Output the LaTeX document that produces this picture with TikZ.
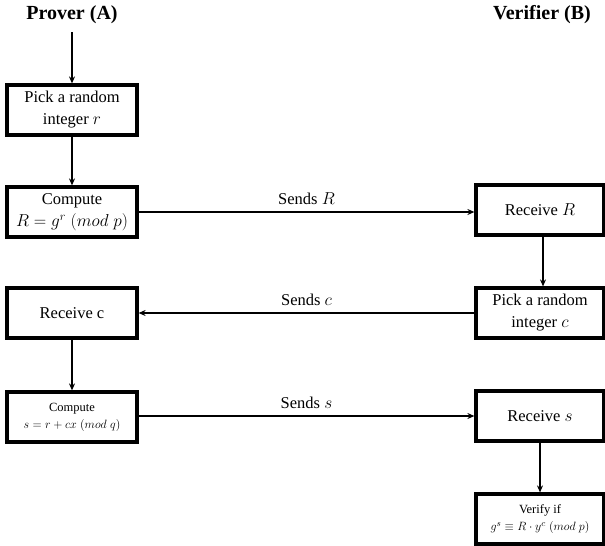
\documentclass[tikz,border=0pt]{standalone}
\usepackage{fontspec}
\setmainfont{Liberation Serif}
\usetikzlibrary{arrows.meta}
\tikzset{
  box/.style={draw=black, line width=3.2pt, fill=white, align=center,
    inner sep=2pt, font=\fontsize{16.5}{22}\selectfont},
  lbox/.style={box, minimum width=130pt, minimum height=50pt},
  rbox/.style={box, minimum width=128pt, minimum height=50pt},
  small/.style={font=\fontsize{12.5}{17}\selectfont},
  title/.style={font=\fontsize{20}{24}\selectfont\bfseries},
  conn/.style={line width=1.8pt, -{Stealth[length=7pt,width=6pt]}},
  lab/.style={font=\fontsize{16.5}{20}\selectfont, above=3pt}
}
\begin{document}
\begin{tikzpicture}[x=1pt,y=-1pt]
\useasboundingbox (0,0) rectangle (605,546);
\node[title] (tA) at (72,15) {Prover (A)};
\node[title] (tB) at (542,15) {Verifier (B)};
\coordinate (start) at (72,32);
\node[lbox] (a1) at (72,110) {Pick a random\\integer $r$};
\node[lbox] (a2) at (72,212) {Compute\\$R=g^{r}\;(mod\;p)$};
\node[lbox] (a3) at (72,313) {Receive c};
\node[lbox, small] (a4) at (72,417) {Compute\\$s=r+cx\;(mod\;q)$};
\node[rbox] (b1) at (540,210) {Receive $R$};
\node[rbox] (b2) at (540,313) {Pick a random\\integer $c$};
\node[rbox] (b3) at (540,416) {Receive $s$};
\node[rbox, small] (b4) at (540,519) {Verify if\\$g^{s}\equiv R\cdot y^{c}\;(mod\;p)$};
\draw[conn] (start) -- (a1.north);
\draw[conn] (a1) -- (a2);
\draw[conn] (a3) -- (a4);
\draw[conn] (b1.south -| 543,0) -- (b2.north -| 543,0);
\draw[conn] (b3) -- (b4);
\draw[conn] (a2.east |- 0,212) -- node[lab] {Sends $R$} (b1.west |- 0,212);
\draw[conn] (b2.west) -- node[lab] {Sends $c$} (a3.east);
\draw[conn] (a4.east |- 0,416) -- node[lab] {Sends $s$} (b3.west |- 0,416);
\end{tikzpicture}
\end{document}
